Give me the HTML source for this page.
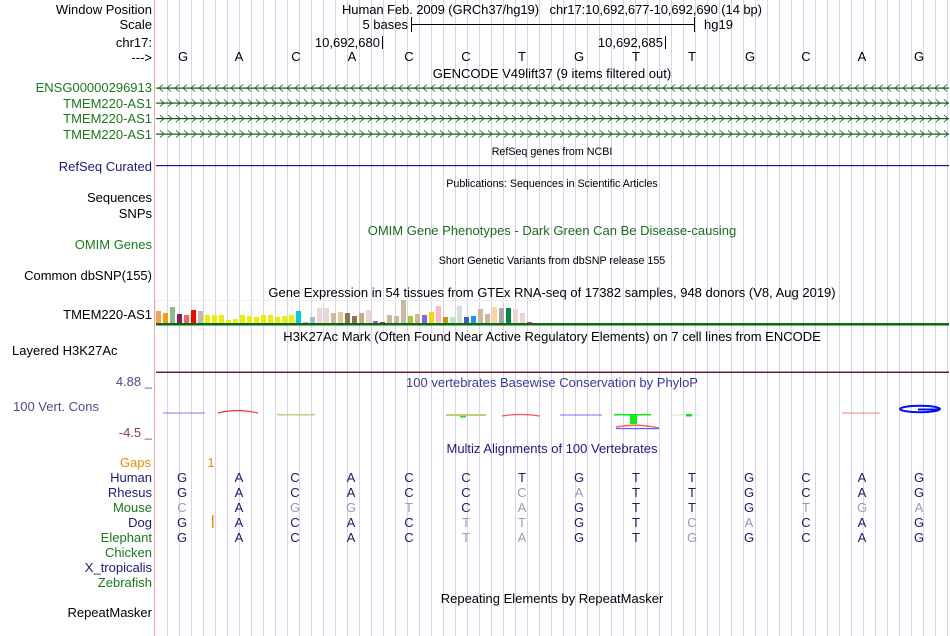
<!DOCTYPE html>
<html><head><meta charset="utf-8"><style>
html,body{margin:0;padding:0;background:#fff;}
svg{display:block;font-family:"Liberation Sans",sans-serif;}
</style></head><body>
<svg width="950" height="636" viewBox="0 0 950 636" xmlns="http://www.w3.org/2000/svg">
<defs>
<pattern id="grid" patternUnits="userSpaceOnUse" x="167" y="0" width="12" height="636"><rect x="0" y="0" width="1" height="636" fill="#d4d4f0"/></pattern>
<pattern id="left" patternUnits="userSpaceOnUse" x="158" y="83" width="8" height="10"><polyline points="5,1.5 1,5 5,8.5" fill="none" stroke="#0c4f0c" stroke-width="0.8"/></pattern>
<pattern id="right" patternUnits="userSpaceOnUse" x="158" y="98" width="8" height="10"><polyline points="2,1.5 6,5 2,8.5" fill="none" stroke="#0c4f0c" stroke-width="0.8"/></pattern>
</defs>
<rect width="950" height="636" fill="#fff"/>
<rect x="156" y="0" width="794" height="636" fill="url(#grid)"/>
<rect x="154" y="0" width="1" height="636" fill="#f4a0a0"/>

<g font-size="13" fill="#000" text-anchor="end">
<text x="152" y="14">Window Position</text>
<text x="152" y="29">Scale</text>
<text x="152" y="47">chr17:</text>
<text x="152" y="62">---&gt;</text>
<text x="152" y="202">Sequences</text>
<text x="152" y="218">SNPs</text>
<text x="152" y="280">Common dbSNP(155)</text>
<text x="152" y="319">TMEM220-AS1</text>
<text x="152" y="617">RepeatMasker</text>
</g>
<text x="12" y="355" font-size="13">Layered H3K27Ac</text>
<g font-size="13" fill="#1a7a1a" text-anchor="end">
<text x="152" y="92">ENSG00000296913</text>
<text x="152" y="108">TMEM220-AS1</text>
<text x="152" y="123">TMEM220-AS1</text>
<text x="152" y="139">TMEM220-AS1</text>
<text x="152" y="249">OMIM Genes</text>
</g>
<text x="152" y="171" font-size="13" fill="#1a1a80" text-anchor="end">RefSeq Curated</text>
<text x="152" y="386" font-size="13" fill="#4a4a99" text-anchor="end">4.88 _</text>
<text x="13" y="411" font-size="13" fill="#4a4a99">100 Vert. Cons</text>
<text x="152" y="437" font-size="13" fill="#8a3a3a" text-anchor="end">-4.5 _</text>
<text x="151" y="467" font-size="13" fill="#f08c00" text-anchor="end">Gaps</text>
<g font-size="13" text-anchor="end">
<text x="152" y="482" fill="#1a1a80">Human</text>
<text x="152" y="497" fill="#1a1a80">Rhesus</text>
<text x="152" y="512" fill="#1a7a1a">Mouse</text>
<text x="152" y="527" fill="#1a1a80">Dog</text>
<text x="152" y="542" fill="#1a7a1a">Elephant</text>
<text x="152" y="557" fill="#1a7a1a">Chicken</text>
<text x="152" y="572" fill="#1a1a80">X_tropicalis</text>
<text x="152" y="587" fill="#1a7a1a">Zebrafish</text>
</g>

<!-- header -->
<text x="342" y="14" font-size="13" textLength="420" lengthAdjust="spacing">Human Feb. 2009 (GRCh37/hg19)&#160;&#160;&#160;chr17:10,692,677-10,692,690 (14 bp)</text>
<text x="408" y="29" font-size="13" text-anchor="end">5 bases</text>
<rect x="411" y="17" width="1" height="15" fill="#000"/>
<rect x="411" y="24" width="284" height="1" fill="#000"/>
<rect x="694" y="17" width="1" height="15" fill="#000"/>
<text x="704" y="29" font-size="13">hg19</text>
<text x="380" y="47" font-size="13" text-anchor="end">10,692,680</text>
<rect x="382" y="36" width="1" height="13" fill="#000"/>
<text x="663" y="47" font-size="13" text-anchor="end">10,692,685</text>
<rect x="665" y="36" width="1" height="13" fill="#000"/>
<g font-size="13" text-anchor="middle">
<text x="183" y="61">G</text><text x="239" y="61">A</text><text x="296" y="61">C</text><text x="352" y="61">A</text><text x="409" y="61">C</text><text x="466" y="61">C</text><text x="522" y="61">T</text><text x="579" y="61">G</text><text x="636" y="61">T</text><text x="692" y="61">T</text><text x="750" y="61">G</text><text x="806" y="61">C</text><text x="862" y="61">A</text><text x="919" y="61">G</text>
</g>
<text x="552" y="78" font-size="13" text-anchor="middle">GENCODE V49lift37 (9 items filtered out)</text>

<!-- genes -->
<rect x="156" y="87.5" width="793" height="1.2" fill="#0c5a0c"/>
<rect x="156" y="83" width="793" height="10" fill="url(#left)"/>
<rect x="156" y="102.5" width="793" height="1.2" fill="#0c5a0c"/>
<rect x="156" y="98" width="793" height="10" fill="url(#right)"/>
<rect x="156" y="118" width="793" height="1.2" fill="#0c5a0c"/>
<rect x="156" y="98" width="793" height="10" fill="url(#right)" transform="translate(0,15.5)"/>
<rect x="156" y="133.5" width="793" height="1.2" fill="#0c5a0c"/>
<rect x="156" y="98" width="793" height="10" fill="url(#right)" transform="translate(0,31)"/>

<text x="552" y="155" font-size="10.7" text-anchor="middle">RefSeq genes from NCBI</text>
<rect x="156" y="165" width="793" height="1.2" fill="#1a1a80"/>
<text x="552" y="187" font-size="10.7" text-anchor="middle">Publications: Sequences in Scientific Articles</text>
<text x="552" y="235" font-size="13" fill="#1a6e1a" text-anchor="middle">OMIM Gene Phenotypes - Dark Green Can Be Disease-causing</text>
<text x="552" y="264" font-size="10.7" text-anchor="middle">Short Genetic Variants from dbSNP release 155</text>
<text x="552" y="297" font-size="13" text-anchor="middle">Gene Expression in 54 tissues from GTEx RNA-seq of 17382 samples, 948 donors (V8, Aug 2019)</text>

<!-- GTEx bars -->
<rect x="155.5" y="300.5" width="384" height="23" fill="none" stroke="#eeeeee"/>
<g>
<rect x="156" y="311" width="5" height="12" fill="#f6a15a"/>
<rect x="163" y="313" width="5" height="10" fill="#f0a30a"/>
<rect x="170" y="307" width="5" height="16" fill="#8fbc8f"/>
<rect x="177" y="314" width="5" height="9" fill="#8b1c62"/>
<rect x="184" y="315" width="5" height="8" fill="#ee6a50"/>
<rect x="191" y="310" width="5" height="13" fill="#ff0000"/>
<rect x="198" y="311" width="5" height="12" fill="#cdb79e"/>
<rect x="205" y="315" width="5" height="8" fill="#eeee00"/>
<rect x="212" y="315" width="5" height="8" fill="#eeee00"/>
<rect x="219" y="315" width="5" height="8" fill="#eeee00"/>
<rect x="226" y="320" width="5" height="3" fill="#eeee00"/>
<rect x="233" y="319" width="5" height="4" fill="#eeee00"/>
<rect x="240" y="315" width="5" height="8" fill="#eeee00"/>
<rect x="247" y="316" width="5" height="7" fill="#eeee00"/>
<rect x="254" y="317" width="5" height="6" fill="#eeee00"/>
<rect x="261" y="315" width="5" height="8" fill="#eeee00"/>
<rect x="268" y="315" width="5" height="8" fill="#eeee00"/>
<rect x="275" y="317" width="5" height="6" fill="#eeee00"/>
<rect x="282" y="316" width="5" height="7" fill="#eeee00"/>
<rect x="289" y="315" width="5" height="8" fill="#eeee00"/>
<rect x="296" y="311" width="5" height="12" fill="#00ced1"/>
<rect x="303" y="322" width="5" height="1" fill="#ee82ee"/>
<rect x="310" y="317" width="5" height="6" fill="#9ac0cd"/>
<rect x="317" y="308" width="5" height="15" fill="#eed5d2"/>
<rect x="324" y="308" width="5" height="15" fill="#eed5d2"/>
<rect x="331" y="313" width="5" height="10" fill="#cdb79e"/>
<rect x="338" y="312" width="5" height="11" fill="#eec591"/>
<rect x="345" y="313" width="5" height="10" fill="#8b7355"/>
<rect x="352" y="316" width="5" height="7" fill="#8b7355"/>
<rect x="359" y="313" width="5" height="10" fill="#cdaa7d"/>
<rect x="366" y="310" width="5" height="13" fill="#eed5d2"/>
<rect x="373" y="321" width="5" height="2" fill="#b452cd"/>
<rect x="380" y="322" width="5" height="1" fill="#7a378b"/>
<rect x="387" y="315" width="5" height="8" fill="#cdb79e"/>
<rect x="394" y="316" width="5" height="7" fill="#cdb79e"/>
<rect x="401" y="300" width="5" height="23" fill="#cdb79e"/>
<rect x="408" y="316" width="5" height="7" fill="#9acd32"/>
<rect x="415" y="314" width="5" height="9" fill="#cdb79e"/>
<rect x="422" y="315" width="5" height="8" fill="#7b68ee"/>
<rect x="429" y="312" width="5" height="11" fill="#ffd700"/>
<rect x="436" y="306" width="5" height="17" fill="#ffb6c1"/>
<rect x="443" y="317" width="5" height="6" fill="#cd950c"/>
<rect x="450" y="317" width="5" height="6" fill="#b4eeb4"/>
<rect x="457" y="306" width="5" height="17" fill="#d9d9d9"/>
<rect x="464" y="317" width="5" height="6" fill="#3a5fcd"/>
<rect x="471" y="316" width="5" height="7" fill="#1e90ff"/>
<rect x="478" y="309" width="5" height="14" fill="#cdb79e"/>
<rect x="485" y="314" width="5" height="9" fill="#cdb79e"/>
<rect x="492" y="307" width="5" height="16" fill="#ffd39b"/>
<rect x="499" y="308" width="5" height="15" fill="#a6a6a6"/>
<rect x="506" y="308" width="5" height="15" fill="#008b45"/>
<rect x="513" y="309" width="5" height="14" fill="#eed5d2"/>
<rect x="520" y="313" width="5" height="10" fill="#eed5d2"/>
<rect x="527" y="322" width="5" height="1" fill="#ff00ff"/>
</g>
<rect x="156" y="323" width="793" height="2.5" fill="#0a6a0a"/>
<text x="552" y="341" font-size="13" text-anchor="middle">H3K27Ac Mark (Often Found Near Active Regulatory Elements) on 7 cell lines from ENCODE</text>
<rect x="156" y="371.5" width="793" height="1.5" fill="#6a1f35"/>
<text x="552" y="387" font-size="13" fill="#3a3a99" text-anchor="middle">100 vertebrates Basewise Conservation by PhyloP</text>

<!-- conservation -->
<g>
<rect x="163" y="412.5" width="42" height="1" fill="#7a7aff"/>
<path d="M218 413 Q238 408 258 413" fill="none" stroke="#ff3030" stroke-width="1.2"/>
<rect x="277" y="414" width="38" height="1.5" fill="#c8c880"/>
<rect x="446" y="414" width="40" height="2" fill="#c8c878"/>
<rect x="460" y="416" width="6" height="1.5" fill="#20e020"/>
<path d="M502 416 Q521 413 540 416" fill="none" stroke="#ff5050" stroke-width="1.2"/>
<rect x="560" y="414.5" width="42" height="1" fill="#7070ff"/>
<rect x="614" y="414" width="37" height="1.5" fill="#10f010"/>
<rect x="630" y="415" width="7" height="9" fill="#10f010"/>
<path d="M616 427 Q637 423 659 428" fill="none" stroke="#ff6060" stroke-width="1.5"/>
<rect x="616" y="428" width="43" height="1.2" fill="#6060ff"/>
<rect x="670" y="414.5" width="30" height="1" fill="#c0f0c0"/>
<rect x="686" y="414" width="6" height="2.5" fill="#10e010"/>
<rect x="842" y="412.5" width="38" height="1" fill="#f08080"/>
<ellipse cx="920" cy="409" rx="20" ry="3.2" fill="none" stroke="#0010ff" stroke-width="2"/>
<rect x="918" y="408.5" width="22" height="2" fill="#0010ff"/>
</g>

<text x="552" y="453" font-size="13" fill="#1a1a80" text-anchor="middle">Multiz Alignments of 100 Vertebrates</text>
<text x="211" y="467" font-size="13" fill="#f08c00" text-anchor="middle">1</text>
<rect x="212" y="515" width="1.5" height="13" fill="#f08c00"/>

<g font-size="13" text-anchor="middle" fill="#1a1a70">
<text x="182" y="482">G</text><text x="239" y="482">A</text><text x="295" y="482">C</text><text x="351" y="482">A</text><text x="409" y="482">C</text><text x="466" y="482">C</text><text x="522" y="482">T</text><text x="579" y="482">G</text><text x="636" y="482">T</text><text x="692" y="482">T</text><text x="749" y="482">G</text><text x="806" y="482">C</text><text x="862" y="482">A</text><text x="919" y="482">G</text>

<text x="182" y="497">G</text><text x="239" y="497">A</text><text x="295" y="497">C</text><text x="351" y="497">A</text><text x="409" y="497">C</text><text x="466" y="497">C</text><text x="522" y="497" fill="#9999bb">C</text><text x="579" y="497" fill="#9999bb">A</text><text x="636" y="497">T</text><text x="692" y="497">T</text><text x="749" y="497">G</text><text x="806" y="497">C</text><text x="862" y="497">A</text><text x="919" y="497">G</text>

<text x="182" y="512" fill="#9999bb">C</text><text x="239" y="512">A</text><text x="295" y="512" fill="#9999bb">G</text><text x="351" y="512" fill="#9999bb">G</text><text x="409" y="512" fill="#9999bb">T</text><text x="466" y="512">C</text><text x="522" y="512" fill="#9999bb">A</text><text x="579" y="512">G</text><text x="636" y="512">T</text><text x="692" y="512">T</text><text x="749" y="512">G</text><text x="806" y="512" fill="#9999bb">T</text><text x="862" y="512" fill="#9999bb">G</text><text x="919" y="512" fill="#9999bb">A</text>

<text x="182" y="527">G</text><text x="239" y="527">A</text><text x="295" y="527">C</text><text x="351" y="527">A</text><text x="409" y="527">C</text><text x="466" y="527" fill="#9999bb">T</text><text x="522" y="527" fill="#9999bb">T</text><text x="579" y="527">G</text><text x="636" y="527">T</text><text x="692" y="527" fill="#9999bb">C</text><text x="749" y="527" fill="#9999bb">A</text><text x="806" y="527">C</text><text x="862" y="527">A</text><text x="919" y="527">G</text>

<text x="182" y="542">G</text><text x="239" y="542">A</text><text x="295" y="542">C</text><text x="351" y="542">A</text><text x="409" y="542">C</text><text x="466" y="542" fill="#9999bb">T</text><text x="522" y="542" fill="#9999bb">A</text><text x="579" y="542">G</text><text x="636" y="542">T</text><text x="692" y="542" fill="#9999bb">G</text><text x="749" y="542">G</text><text x="806" y="542">C</text><text x="862" y="542">A</text><text x="919" y="542">G</text>
</g>

<text x="552" y="603" font-size="13" text-anchor="middle">Repeating Elements by RepeatMasker</text>
</svg>
</body></html>
